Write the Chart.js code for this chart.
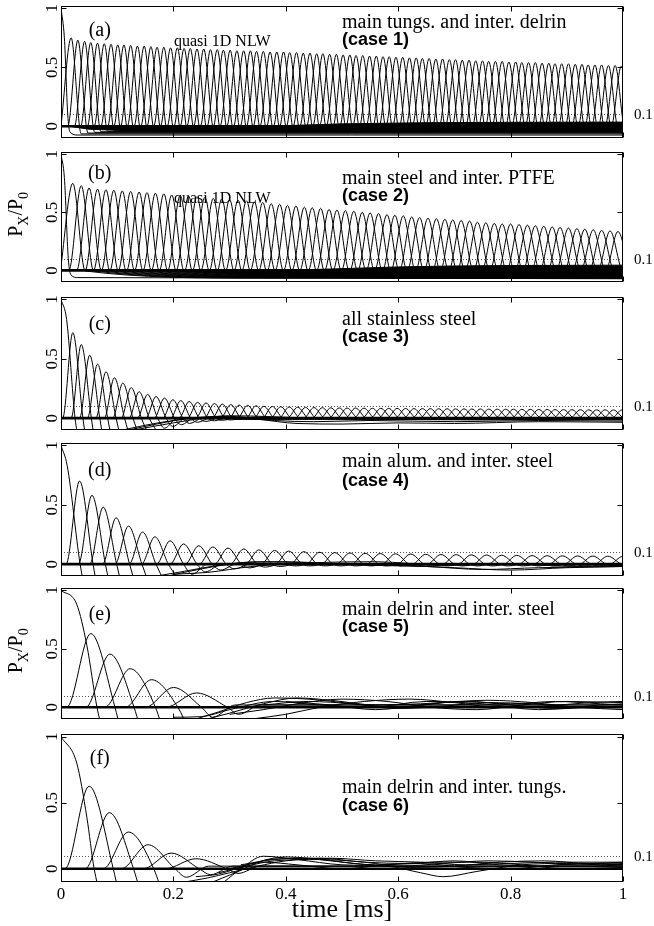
<!DOCTYPE html>
<html>
<head>
<meta charset="utf-8">
<script src="https://cdn.jsdelivr.net/npm/chart.js@4.4.1/dist/chart.umd.min.js"></script>
<style>
html,body{margin:0;padding:0;background:#fff;}
#fig{position:relative;width:654px;height:926px;overflow:hidden;background:#fff;}
#fig canvas{position:absolute;left:0;}
</style>
</head>
<body>
<div id="fig"></div>
<script>
// ---- shared axes ----
const X_TICKS = [0, 0.2, 0.4, 0.6, 0.8, 1];
const X_TICK_LABELS = ['0', '0.2', '0.4', '0.6', '0.8', '1'];
const Y_TICKS = [0, 0.5, 1];
const Y_TICK_LABELS = ['0', '0.5', '1'];
const REF_LEVEL = 0.1;
const REF_LABEL = '0.1';

// ---- (a) main tungsten / interstitial delrin ----
const firstTimeA = [0, 0.006, 0.012, 0.016, 0.03, 1];
const firstValA  = [1, 0.75, 0.1, -0.05, -0.075, -0.075];
const timeA = [
  0.018, 0.030, 0.042, 0.053, 0.065, 0.077, 0.089, 0.101, 0.112, 0.124,
  0.136, 0.148, 0.160, 0.171, 0.183, 0.195, 0.207, 0.219, 0.230, 0.242,
  0.254, 0.266, 0.278, 0.289, 0.301, 0.313, 0.325, 0.337, 0.348, 0.360,
  0.372, 0.384, 0.396, 0.407, 0.419, 0.431, 0.443, 0.455, 0.466, 0.478,
  0.490, 0.502, 0.514, 0.525, 0.537, 0.549, 0.561, 0.573, 0.584, 0.596,
  0.608, 0.620, 0.632, 0.643, 0.655, 0.667, 0.679, 0.691, 0.702, 0.714,
  0.726, 0.738, 0.750, 0.761, 0.773, 0.785, 0.797, 0.809, 0.820, 0.832,
  0.844, 0.856, 0.868, 0.879, 0.891, 0.903, 0.915, 0.927, 0.938, 0.950,
  0.962, 0.974, 0.986, 0.997];
const peakA = [
  0.75, 0.73, 0.72, 0.71, 0.705, 0.70, 0.695, 0.69, 0.69, 0.685,
  0.68, 0.68, 0.675, 0.67, 0.67, 0.665, 0.665, 0.66, 0.66, 0.655,
  0.655, 0.65, 0.65, 0.645, 0.645, 0.64, 0.64, 0.64, 0.635, 0.635,
  0.63, 0.63, 0.63, 0.625, 0.625, 0.62, 0.62, 0.615, 0.615, 0.61,
  0.61, 0.605, 0.605, 0.60, 0.60, 0.595, 0.595, 0.59, 0.59, 0.585,
  0.585, 0.58, 0.58, 0.575, 0.575, 0.57, 0.57, 0.565, 0.565, 0.56,
  0.56, 0.555, 0.555, 0.55, 0.55, 0.55, 0.545, 0.545, 0.54, 0.54,
  0.54, 0.535, 0.535, 0.53, 0.53, 0.53, 0.525, 0.525, 0.52, 0.52,
  0.52, 0.515, 0.515, 0.51];
const tailA = [-0.065, -0.058, -0.052, -0.047, -0.043, -0.04, -0.037, -0.035];
const bandTimeA = [0.02, 0.05, 0.1, 0.2, 0.3, 0.4, 0.5, 0.65, 0.8, 1];
const bandTopA  = [0, 0, 0, 0, 0, 0.005, 0.02, 0.03, 0.033, 0.035];
const bandBotA  = [-0.005, -0.025, -0.035, -0.045, -0.047, -0.048, -0.05, -0.05, -0.05, -0.05];

// ---- (b) main steel / interstitial PTFE ----
const firstTimeB = [0, 0.006, 0.013, 0.018, 0.03, 1];
const firstValB  = [1, 0.8, 0.1, -0.04, -0.062, -0.068];
const timeB = [
  0.021, 0.036, 0.050, 0.065, 0.080, 0.094, 0.109, 0.124, 0.139, 0.153,
  0.168, 0.183, 0.197, 0.212, 0.227, 0.242, 0.256, 0.271, 0.286, 0.300,
  0.315, 0.330, 0.344, 0.359, 0.374, 0.389, 0.403, 0.418, 0.433, 0.447,
  0.462, 0.477, 0.491, 0.506, 0.521, 0.536, 0.550, 0.565, 0.580, 0.594,
  0.609, 0.624, 0.638, 0.653, 0.668, 0.683, 0.697, 0.712, 0.727, 0.741,
  0.756, 0.771, 0.785, 0.800, 0.815, 0.830, 0.844, 0.859, 0.874, 0.888,
  0.903, 0.918, 0.932, 0.947, 0.962, 0.977, 0.991];
const peakB = [
  0.75, 0.73, 0.71, 0.70, 0.695, 0.69, 0.685, 0.68, 0.675, 0.67,
  0.665, 0.66, 0.65, 0.645, 0.64, 0.635, 0.63, 0.62, 0.615, 0.61,
  0.605, 0.60, 0.59, 0.585, 0.575, 0.57, 0.56, 0.555, 0.545, 0.54,
  0.535, 0.525, 0.52, 0.515, 0.51, 0.50, 0.495, 0.49, 0.48, 0.475,
  0.47, 0.46, 0.455, 0.45, 0.445, 0.44, 0.435, 0.43, 0.425, 0.415,
  0.41, 0.405, 0.40, 0.40, 0.395, 0.39, 0.385, 0.38, 0.375, 0.37,
  0.365, 0.36, 0.355, 0.35, 0.345, 0.34, 0.335];
const tailB = [-0.066, -0.064, -0.062, -0.06, -0.058, -0.056, -0.054, -0.052, -0.05, -0.048, -0.046, -0.044];
const bandTimeB = [0.2, 0.3, 0.4, 0.5, 0.6, 0.7, 0.8, 1];
const bandTopB  = [0, 0, 0, 0.015, 0.03, 0.038, 0.042, 0.045];
const bandBotB  = [-0.005, -0.025, -0.045, -0.062, -0.068, -0.07, -0.07, -0.072];

// ---- (c) all stainless steel ----
const firstTimeC = [0, 0.01, 0.025, 0.032];
const firstValC  = [1, 0.83, 0, -0.2];
const timeC = [
  0.021, 0.036, 0.051, 0.065, 0.080, 0.095, 0.110, 0.125, 0.139, 0.154,
  0.169, 0.184, 0.199, 0.213, 0.228, 0.243, 0.258, 0.273, 0.287, 0.302,
  0.317, 0.332, 0.347, 0.361, 0.376, 0.391, 0.406, 0.421, 0.435, 0.450,
  0.465, 0.480, 0.495, 0.509, 0.524, 0.539, 0.554, 0.569, 0.583, 0.598,
  0.613, 0.628, 0.643, 0.657, 0.672, 0.687, 0.702, 0.717, 0.731, 0.746,
  0.761, 0.776, 0.791, 0.805, 0.820, 0.835, 0.850, 0.865, 0.879, 0.894,
  0.909, 0.924, 0.939, 0.953, 0.968, 0.983, 0.998];
const peakC = [
  0.72, 0.62, 0.53, 0.455, 0.39, 0.34, 0.295, 0.257, 0.222, 0.20,
  0.182, 0.169, 0.155, 0.148, 0.14, 0.133, 0.128, 0.123, 0.118, 0.114,
  0.11, 0.107, 0.104, 0.10, 0.098, 0.096, 0.094, 0.092, 0.09, 0.089,
  0.088, 0.087, 0.086, 0.085, 0.085, 0.084, 0.083, 0.083, 0.082, 0.082,
  0.081, 0.08, 0.08, 0.08, 0.079, 0.079, 0.078, 0.078, 0.077, 0.077,
  0.076, 0.076, 0.075, 0.075, 0.074, 0.074, 0.073, 0.073, 0.072, 0.072,
  0.071, 0.071, 0.07, 0.07, 0.07, 0.069, 0.069];
const troughC = [-0.4, -0.4, -0.35, -0.3, -0.25, -0.2, -0.16, -0.13, -0.1, -0.085,
  -0.07, -0.055, -0.045, -0.035, -0.028, -0.022, -0.018, -0.015];
const wakeTimeC = [
  [0.11, 0.15, 0.2, 0.28, 0.35, 0.42, 0.5, 0.6, 0.7, 0.85, 1],
  [0.12, 0.17, 0.23, 0.3, 0.38, 0.45, 0.55, 0.7, 0.85, 1],
  [0.13, 0.2, 0.3, 0.45, 0.6, 0.75, 0.9, 1]];
const wakeValC = [
  [-0.1, -0.06, -0.02, 0.01, -0.01, -0.045, -0.05, -0.04, -0.045, -0.03, -0.035],
  [-0.1, -0.05, 0.0, 0.015, -0.02, -0.03, -0.02, -0.03, -0.02, -0.025],
  [-0.1, -0.04, 0.02, 0.0, -0.01, -0.015, -0.01, -0.015]];

// ---- (d) main aluminium / interstitial steel ----
const firstTimeD = [0, 0.011, 0.034, 0.042];
const firstValD  = [1, 0.83, 0, -0.2];
const timeD = [
  0.033, 0.055, 0.075, 0.098, 0.12, 0.145, 0.167, 0.194, 0.218, 0.245,
  0.27, 0.297, 0.325, 0.352, 0.38, 0.405, 0.432, 0.46, 0.487, 0.514,
  0.541, 0.568, 0.595, 0.622, 0.649, 0.676, 0.703, 0.73, 0.757, 0.784,
  0.811, 0.838, 0.865, 0.892, 0.919, 0.946, 0.973, 1.0];
const peakD = [
  0.70, 0.58, 0.48, 0.39, 0.32, 0.27, 0.23, 0.197, 0.17, 0.155,
  0.145, 0.135, 0.128, 0.12, 0.115, 0.11, 0.105, 0.10, 0.097, 0.094,
  0.091, 0.089, 0.087, 0.085, 0.083, 0.081, 0.08, 0.078, 0.077, 0.075,
  0.074, 0.072, 0.071, 0.07, 0.069, 0.068, 0.067, 0.066];
const troughD = [-0.4, -0.35, -0.3, -0.25, -0.2, -0.15, -0.11, -0.085, -0.065, -0.05,
  -0.04, -0.032, -0.025, -0.02];
const wakeTimeD = [
  [0.17, 0.22, 0.28, 0.35, 0.45, 0.55, 0.65, 0.75, 0.85, 1],
  [0.19, 0.25, 0.32, 0.4, 0.5, 0.6, 0.7, 0.8, 0.9, 1],
  [0.2, 0.26, 0.34, 0.44, 0.56, 0.68, 0.8, 0.92, 1]];
const wakeValD = [
  [-0.1, -0.06, -0.01, 0.02, 0.01, -0.01, -0.02, -0.045, -0.03, -0.02],
  [-0.1, -0.04, 0.01, 0.02, 0.0, -0.01, -0.03, -0.05, -0.03, -0.02],
  [-0.085, -0.07, -0.02, 0.01, 0.02, -0.01, 0.0, -0.02, -0.01]];

// ---- (e) main delrin / interstitial steel ----
const firstTimeE = [0, 0.028, 0.046, 0.064, 0.074];
const firstValE  = [1, 0.88, 0.53, 0, -0.2];
const timeE  = [0.053, 0.087, 0.123, 0.161, 0.200, 0.241];
const peakE  = [0.63, 0.455, 0.33, 0.236, 0.17, 0.123];
const widthE = [0.043, 0.043, 0.045, 0.047, 0.05, 0.055];
const troughE = [-0.4, -0.35, -0.3, -0.2, -0.085, -0.06];
const wakeTimeE = [
  [0.24, 0.28, 0.33, 0.38, 0.44, 0.52, 0.6, 0.68, 0.76, 0.84, 0.92, 1],
  [0.26, 0.3, 0.36, 0.42, 0.48, 0.56, 0.64, 0.72, 0.8, 0.88, 0.96, 1],
  [0.3, 0.36, 0.42, 0.5, 0.58, 0.66, 0.74, 0.82, 0.9, 1],
  [0.34, 0.4, 0.46, 0.54, 0.62, 0.7, 0.78, 0.86, 0.94, 1],
  [0.36, 0.44, 0.52, 0.6, 0.68, 0.76, 0.84, 0.92, 1],
  [0.4, 0.48, 0.56, 0.64, 0.72, 0.8, 0.88, 0.96, 1],
  [0.2, 0.25, 0.3, 0.38, 0.46, 0.55, 0.65, 0.75, 0.85, 0.95, 1]];
const wakeValE = [
  [-0.1, -0.04, 0.04, 0.08, 0.07, 0.03, -0.01, 0.01, 0.04, 0.03, 0.0, 0.01],
  [-0.1, -0.05, 0.03, 0.08, 0.06, 0.02, 0.03, 0.05, 0.02, -0.01, 0.02, 0.03],
  [-0.06, -0.02, 0.03, 0.07, 0.05, 0.0, -0.02, 0.02, 0.05, 0.04],
  [-0.1, -0.06, 0.0, 0.05, 0.07, 0.04, 0.0, 0.01, 0.04, 0.05],
  [0.02, 0.05, 0.03, 0.0, 0.04, 0.06, 0.04, 0.0, -0.02],
  [0.05, 0.02, -0.02, 0.02, 0.05, 0.03, 0.05, 0.03, 0.02],
  [-0.085, -0.08, -0.02, 0.05, 0.02, 0.0, 0.05, 0.03, -0.02, 0.0, 0.0]];

// ---- (f) main delrin / interstitial tungsten ----
const firstTimeF = [0, 0.028, 0.046, 0.059, 0.07];
const firstValF  = [1, 0.8, 0.39, 0, -0.2];
const timeF  = [0.050, 0.086, 0.120, 0.155, 0.196, 0.240];
const peakF  = [0.625, 0.425, 0.278, 0.182, 0.119, 0.076];
const widthF = [0.043, 0.043, 0.045, 0.048, 0.05, 0.055];
const troughF = [-0.4, -0.3, -0.25, -0.064, -0.045, -0.035];
const wakeTimeF = [
  [0.29, 0.32, 0.36, 0.42, 0.5, 0.58, 0.64, 0.68, 0.74, 0.82, 0.9, 1],
  [0.27, 0.31, 0.37, 0.44, 0.52, 0.6, 0.68, 0.76, 0.84, 0.92, 1],
  [0.24, 0.28, 0.34, 0.4, 0.48, 0.56, 0.64, 0.72, 0.8, 0.88, 0.96, 1],
  [0.28, 0.33, 0.38, 0.46, 0.54, 0.62, 0.7, 0.78, 0.86, 0.94, 1],
  [0.32, 0.38, 0.46, 0.54, 0.62, 0.7, 0.78, 0.86, 0.94, 1],
  [0.3, 0.36, 0.42, 0.5, 0.58, 0.66, 0.74, 0.82, 0.9, 1],
  [0.22, 0.26, 0.3, 0.35, 0.4, 0.48, 0.56, 0.64, 0.72, 0.8, 0.88, 1]];
const wakeValF = [
  [-0.1, 0.0, 0.095, 0.07, 0.03, 0.02, -0.03, -0.06, -0.02, 0.03, 0.04, 0.03],
  [-0.1, -0.03, 0.07, 0.08, 0.04, 0.02, 0.04, 0.06, 0.05, 0.03, 0.04],
  [-0.06, -0.04, 0.04, 0.09, 0.06, 0.03, 0.04, 0.01, 0.0, 0.03, 0.04, 0.03],
  [-0.03, 0.02, 0.06, 0.07, 0.05, 0.01, 0.02, 0.05, 0.06, 0.04, 0.05],
  [0.03, 0.07, 0.08, 0.05, 0.04, 0.06, 0.03, 0.02, 0.02, 0.03],
  [0.0, 0.05, 0.03, 0.0, 0.03, 0.05, 0.05, 0.03, 0.0, 0.01],
  [-0.1, -0.07, -0.03, 0.02, 0.06, 0.08, 0.06, 0.05, 0.03, 0.04, 0.05, 0.05]];

// ---- drawing helpers ----
const SERIF = "'Liberation Serif','Times New Roman',serif";
const SANS = "'Liberation Sans',Arial,sans-serif";
const PAD = 8;
const Y_MIN = -0.1, Y_MAX = 1.02;

function pts(xs, ys) { return xs.map((x, i) => ({ x, y: ys[i] })); }
function line(data, width) {
  return { data, borderColor: '#000', borderWidth: width || 1, pointRadius: 0,
           cubicInterpolationMode: 'monotone', fill: false };
}

// pulses that settle onto a flat (or slowly sagging) tail after passing
function settlingPulses(times, peaks, tails, tailDefault, half, sag) {
  return times.map((t, i) => {
    const lvl = i < tails.length ? tails[i] : tailDefault;
    const d = [];
    if (t - half > 0) d.push({ x: 0, y: 0 });
    d.push({ x: t - half, y: 0 }, { x: t, y: peaks[i] });
    if (sag) {
      d.push({ x: t + half, y: -0.005 });
      if (t + half + sag < 1) d.push({ x: t + half + sag, y: lvl });
      d.push({ x: 1.02, y: lvl });
    } else {
      d.push({ x: t + half, y: lvl }, { x: 1.02, y: lvl });
    }
    return line(d);
  });
}

// pulses that undershoot below zero after passing
function dippingPulses(times, peaks, widths, troughs, troughDefault, dip, settle) {
  return times.map((t, i) => {
    const w = Array.isArray(widths) ? widths[i] : widths;
    const tr = i < troughs.length ? troughs[i] : troughDefault;
    const d = [];
    if (t - w > 0) d.push({ x: 0, y: 0 });
    d.push({ x: t - w, y: 0 }, { x: t, y: peaks[i] }, { x: t + w, y: 0 }, { x: t + w + dip, y: tr });
    if (tr > Y_MIN) {
      const r = t + w + 3 * dip;
      d.push({ x: r, y: settle });
      if (r < 1.02) d.push({ x: 1.02, y: settle });
    }
    return line(d);
  });
}

function band(times, top, bot) {
  return [
    { data: pts(times, top), borderColor: '#000', borderWidth: 1, pointRadius: 0, fill: false },
    { data: pts(times, bot), borderColor: '#000', borderWidth: 1, pointRadius: 0, fill: '-1', backgroundColor: '#000' }
  ];
}
function wakes(ts, vs) { return ts.map((t, i) => line(pts(t, vs[i]))); }
const restLine = () => line([{ x: 0, y: 0 }, { x: 1, y: 0 }], 2.6);

const panels = [
  { key: 'a', top: 6, bottom: 146, tag: '(a)', tagY: 0.81,
    title: 'main tungs. and inter. delrin', titleY: 0.83, caseText: '(case 1)', caseY: 0.69,
    note: 'quasi 1D NLW', noteAt: [0.287, 0.715],
    datasets: [...band(bandTimeA, bandTopA, bandBotA), restLine(),
      line(pts(firstTimeA, firstValA)),
      ...settlingPulses(timeA, peakA, tailA, -0.03, 0.018, 0)] },
  { key: 'b', top: 152, bottom: 290, tag: '(b)', tagY: 0.835, ylabel: true,
    title: 'main steel and inter. PTFE', titleY: 0.745, caseText: '(case 2)', caseY: 0.60,
    note: 'quasi 1D NLW', noteAt: [0.287, 0.62],
    datasets: [...band(bandTimeB, bandTopB, bandBotB), restLine(),
      line(pts(firstTimeB, firstValB)),
      ...settlingPulses(timeB, peakB, tailB, -0.04, 0.022, 0.3)] },
  { key: 'c', top: 297, bottom: 438, tag: '(c)', tagY: 0.785,
    title: 'all stainless steel', titleY: 0.785, caseText: '(case 3)', caseY: 0.64,
    datasets: [restLine(), line(pts(firstTimeC, firstValC)),
      ...dippingPulses(timeC, peakC, 0.018, troughC, -0.012, 0.012, 0.004),
      ...wakes(wakeTimeC, wakeValC)] },
  { key: 'd', top: 443, bottom: 584, tag: '(d)', tagY: 0.785,
    title: 'main alum. and inter. steel', titleY: 0.82, caseText: '(case 4)', caseY: 0.66,
    datasets: [restLine(), line(pts(firstTimeD, firstValD)),
      ...dippingPulses(timeD, peakD, 0.024, troughD, -0.015, 0.015, 0.005),
      ...wakes(wakeTimeD, wakeValD)] },
  { key: 'e', top: 588, bottom: 727, tag: '(e)', tagY: 0.795, ylabel: true,
    title: 'main delrin and inter. steel', titleY: 0.79, caseText: '(case 5)', caseY: 0.645,
    datasets: [restLine(), line(pts(firstTimeE, firstValE)),
      ...dippingPulses(timeE, peakE, widthE, troughE, -0.03, 0.02, 0.02),
      ...wakes(wakeTimeE, wakeValE)] },
  { key: 'f', top: 734, bottom: 882, tag: '(f)', tagY: 0.835,
    title: 'main delrin and inter. tungs.', titleY: 0.57, caseText: '(case 6)', caseY: 0.44,
    datasets: [restLine(), line(pts(firstTimeF, firstValF)),
      ...dippingPulses(timeF, peakF, widthF, troughF, -0.03, 0.02, 0.02),
      ...wakes(wakeTimeF, wakeValF)] }
];

function drawYLabel(ctx, cx, cy) {
  const big = '20px ' + SERIF, small = '14px ' + SERIF;
  const parts = [['P', big, 0], ['X', small, 6], ['/P', big, 0], ['0', small, 6]];
  let total = 0;
  parts.forEach(p => { ctx.font = p[1]; p.push(ctx.measureText(p[0]).width); total += p[3]; });
  ctx.save();
  ctx.translate(cx, cy);
  ctx.rotate(-Math.PI / 2);
  ctx.textBaseline = 'alphabetic';
  ctx.textAlign = 'left';
  let x = -total / 2;
  parts.forEach(p => { ctx.font = p[1]; ctx.fillText(p[0], x, p[2]); x += p[3]; });
  ctx.restore();
}

function decor(p) {
  return {
    id: 'decor',
    beforeDatasetsDraw(chart) {
      const { ctx, chartArea: a, scales: { y } } = chart;
      const yy = Math.round(y.getPixelForValue(REF_LEVEL)) + 0.5;
      ctx.save();
      ctx.strokeStyle = '#555'; ctx.lineWidth = 1; ctx.setLineDash([1, 2]);
      ctx.beginPath(); ctx.moveTo(a.left, yy); ctx.lineTo(a.right, yy); ctx.stroke();
      ctx.restore();
    },
    afterDatasetsDraw(chart) {
      const { ctx, chartArea: a, scales: { x, y } } = chart;
      ctx.save();
      ctx.fillStyle = '#000'; ctx.strokeStyle = '#000'; ctx.lineWidth = 1;
      const L = Math.round(a.left) + 0.5, R = Math.round(a.right) - 0.5;
      const T = Math.round(a.top) + 0.5, B = Math.round(a.bottom) - 0.5;
      ctx.strokeRect(L, T, R - L, B - T);
      ctx.beginPath();
      X_TICKS.forEach(v => {
        const px = Math.round(x.getPixelForValue(v)) + 0.5;
        ctx.moveTo(px, T); ctx.lineTo(px, T + 5);
        ctx.moveTo(px, B); ctx.lineTo(px, B - 5);
      });
      Y_TICKS.forEach(v => {
        const py = Math.round(y.getPixelForValue(v)) + 0.5;
        ctx.moveTo(L, py); ctx.lineTo(L + 5, py);
        ctx.moveTo(R, py); ctx.lineTo(R - 5, py);
      });
      ctx.stroke();

      // rotated y tick labels
      ctx.font = '17px ' + SERIF;
      Y_TICKS.forEach((v, i) => {
        ctx.save();
        ctx.translate(a.left - 4, y.getPixelForValue(v));
        ctx.rotate(-Math.PI / 2);
        ctx.textAlign = 'center'; ctx.textBaseline = 'alphabetic';
        ctx.fillText(Y_TICK_LABELS[i], 0, 0);
        ctx.restore();
      });

      // reference level label on the right
      ctx.font = '15px ' + SERIF;
      ctx.textAlign = 'left'; ctx.textBaseline = 'middle';
      ctx.fillText(REF_LABEL, a.right + 11, y.getPixelForValue(REF_LEVEL) + 1);

      // panel tag
      ctx.font = '20px ' + SERIF;
      ctx.textAlign = 'center'; ctx.textBaseline = 'middle';
      ctx.fillText(p.tag, x.getPixelForValue(0.069), y.getPixelForValue(p.tagY));

      // material description
      ctx.textAlign = 'left'; ctx.textBaseline = 'alphabetic';
      ctx.font = '20px ' + SERIF;
      ctx.fillText(p.title, x.getPixelForValue(0.5), y.getPixelForValue(p.titleY));
      ctx.font = 'bold 18px ' + SANS;
      ctx.fillText(p.caseText, x.getPixelForValue(0.5), y.getPixelForValue(p.caseY));

      if (p.note) {
        ctx.font = '16px ' + SERIF;
        ctx.textAlign = 'center'; ctx.textBaseline = 'middle';
        ctx.fillText(p.note, x.getPixelForValue(p.noteAt[0]), y.getPixelForValue(p.noteAt[1]));
      }
      if (p.ylabel) drawYLabel(ctx, 22, y.getPixelForValue(0.5) + 2);
      ctx.restore();
    }
  };
}

const fig = document.getElementById('fig');
panels.forEach((p, idx) => {
  const isLast = idx === panels.length - 1;
  const below = isLast ? 926 - p.bottom : PAD;
  const h = (p.bottom - p.top) + PAD + below;
  const cv = document.createElement('canvas');
  cv.width = 654; cv.height = h;
  cv.style.width = '654px'; cv.style.height = h + 'px';
  cv.style.top = (p.top - PAD) + 'px';
  fig.appendChild(cv);
  new Chart(cv, {
    type: 'line',
    data: { datasets: p.datasets },
    options: {
      responsive: false, animation: false, devicePixelRatio: 1, events: [],
      layout: { padding: { left: 61, right: 31, top: PAD, bottom: isLast ? 0 : PAD } },
      plugins: { legend: { display: false }, tooltip: { enabled: false } },
      scales: {
        x: {
          type: 'linear', min: 0, max: 1, display: isLast,
          afterFit: s => { s.height = below; },
          afterBuildTicks: s => { s.ticks = X_TICKS.map(v => ({ value: v })); },
          grid: { display: false, drawTicks: false },
          border: { display: false },
          ticks: { autoSkip: false, maxRotation: 0, padding: 2, color: '#000',
                   font: { family: SERIF, size: 17 },
                   callback: (v, i) => X_TICK_LABELS[i] },
          title: { display: true, text: 'time [ms]', color: '#000',
                   font: { family: SERIF, size: 26 }, padding: { top: 0, bottom: 0 } }
        },
        y: { type: 'linear', min: Y_MIN, max: Y_MAX, display: false }
      }
    },
    plugins: [decor(p)]
  });
});
</script>
</body>
</html>
